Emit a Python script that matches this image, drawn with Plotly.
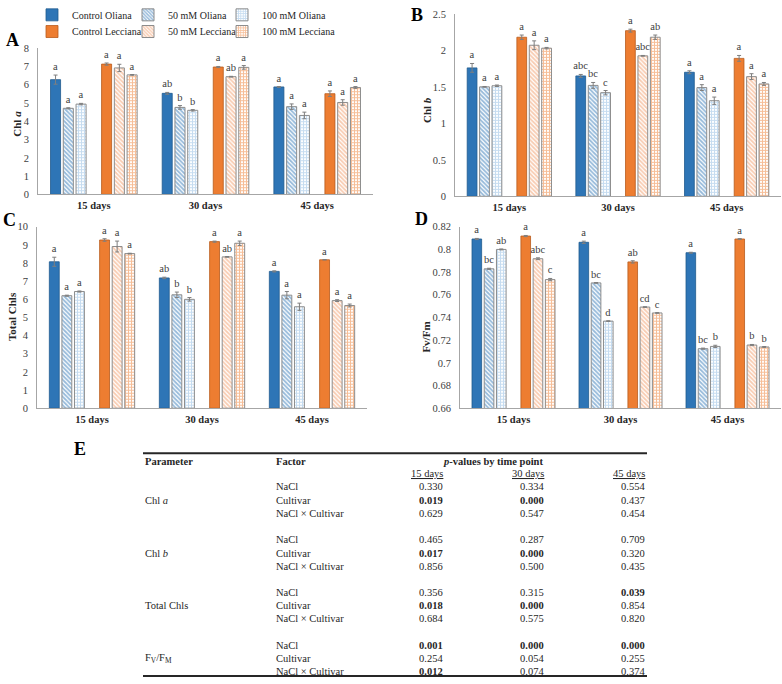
import plotly.graph_objects as go

W, H = 782, 684
FONT = "Liberation Serif, Times New Roman, serif"

# ---------------- data ----------------
days = ["15 days", "30 days", "45 days"]
series_names = ["Control Oliana", "50 mM Oliana", "100 mM Oliana",
                "Control Lecciana", "50 mM Lecciana", "100 mM Lecciana"]

chla_means = [[6.28, 5.53, 5.88], [4.71, 4.76, 4.80], [4.94, 4.60, 4.32],
              [7.13, 6.97, 5.51], [6.92, 6.44, 5.03], [6.54, 6.95, 5.85]]
chla_errs = [[0.25, 0.05, 0.02], [0.03, 0.10, 0.15], [0.04, 0.04, 0.18],
             [0.06, 0.03, 0.15], [0.20, 0.02, 0.15], [0.02, 0.10, 0.05]]
chla_letters = [["a", "ab", "a"], ["a", "b", "a"], ["a", "b", "a"],
                ["a", "a", "a"], ["a", "ab", "a"], ["a", "a", "a"]]

chlb_means = [[1.76, 1.65, 1.70], [1.50, 1.52, 1.49], [1.515, 1.42, 1.31],
              [2.18, 2.27, 1.89], [2.07, 1.925, 1.64], [2.03, 2.18, 1.54]]
chlb_errs = [[0.06, 0.02, 0.02], [0.005, 0.04, 0.04], [0.01, 0.03, 0.05],
             [0.03, 0.02, 0.04], [0.06, 0.005, 0.04], [0.01, 0.03, 0.02]]
chlb_letters = [["a", "abc", "a"], ["a", "bc", "a"], ["a", "c", "a"],
                ["a", "a", "a"], ["a", "abc", "a"], ["a", "ab", "a"]]

tot_means = [[8.07, 7.18, 7.54], [6.20, 6.25, 6.23], [6.43, 6.00, 5.59],
             [9.27, 9.18, 8.18], [8.91, 8.34, 5.93], [8.52, 9.09, 5.66]]
tot_errs = [[0.25, 0.04, 0.03], [0.03, 0.15, 0.20], [0.03, 0.10, 0.20],
            [0.07, 0.03, 0.01], [0.30, 0.02, 0.05], [0.02, 0.12, 0.08]]
tot_letters = [["a", "ab", "a"], ["a", "b", "a"], ["a", "b", "a"],
               ["a", "a", "a"], ["a", "ab", "a"], ["a", "a", "a"]]

fvfm_means = [[0.8092, 0.8063, 0.7971], [0.7829, 0.7705, 0.7125], [0.8000, 0.7368, 0.7145],
              [0.8118, 0.7890, 0.8092], [0.7918, 0.7492, 0.7157], [0.7734, 0.7440, 0.7140]]
fvfm_errs = [[0.0005, 0.001, 0.0004], [0.0005, 0.0003, 0.0005], [0.0004, 0.0003, 0.001],
             [0.0005, 0.001, 0.0003], [0.0008, 0.0003, 0.0005], [0.001, 0.0003, 0.0004]]
fvfm_letters = [["a", "a", "a"], ["bc", "bc", "bc"], ["ab", "d", "b"],
                ["a", "ab", "a"], ["abc", "cd", "b"], ["c", "c", "b"]]

table_params = ["Chl <i>a</i>", "Chl <i>b</i>", "Total Chls", "F<sub>V</sub>/F<sub>M</sub>"]
table_factors = ["NaCl", "Cultivar", "NaCl × Cultivar"]
pvals_15 = [0.330, 0.019, 0.629, 0.465, 0.017, 0.856, 0.356, 0.018, 0.684, 0.001, 0.254, 0.012]
pvals_30 = [0.334, 0.000, 0.547, 0.287, 0.000, 0.500, 0.315, 0.000, 0.575, 0.000, 0.054, 0.074]
pvals_45 = [0.554, 0.437, 0.454, 0.709, 0.320, 0.435, 0.039, 0.854, 0.820, 0.000, 0.255, 0.374]

# ---------------- styles ----------------
BLUE, LBLUE = "#2E75B6", "#8DB9E2"
ORANGE, LORANGE = "#ED7D31", "#F29A66"
styles = [
    dict(color=BLUE, line=dict(color="#1F5A8E", width=0.8)),
    dict(color="white", pattern=dict(shape="\\", fgcolor=BLUE, bgcolor="white", size=3, solidity=0.6),
         line=dict(color="#8C8C8C", width=1)),
    dict(color="white", pattern=dict(shape="+", fgcolor=LBLUE, bgcolor="white", size=3, solidity=0.6),
         line=dict(color="#8C8C8C", width=1)),
    dict(color=ORANGE, line=dict(color="#B85A1C", width=0.8)),
    dict(color="white", pattern=dict(shape="\\", fgcolor=LORANGE, bgcolor="white", size=3, solidity=0.6),
         line=dict(color="#8C8C8C", width=1)),
    dict(color="white", pattern=dict(shape="+", fgcolor=ORANGE, bgcolor="white", size=3, solidity=0.6),
         line=dict(color="#8C8C8C", width=1)),
]
slot = 0.8 / 7
bw = 0.09
slots = [0, 1, 2, 4, 5, 6]
offsets = [-0.4 + s * slot + (slot - bw) / 2 for s in slots]
legend_ids = ["legend", "legend2", "legend3", "legend4", "legend5", "legend6"]


def px(xp):
    return xp / W


def py(yp):
    return 1 - yp / H


panels = [
    dict(means=chla_means, errs=chla_errs, letters=chla_letters, ax="", rng=[0, 8], dt=1,
         xd=[38, 373], yd=[191, 42], legend=True),
    dict(means=chlb_means, errs=chlb_errs, letters=chlb_letters, ax="2", rng=[0, 2.5], dt=0.5,
         xd=[455, 781], yd=[193, 7], legend=False),
    dict(means=tot_means, errs=tot_errs, letters=tot_letters, ax="3", rng=[0, 10], dt=1,
         xd=[37, 367], yd=[409, 224], legend=False),
    dict(means=fvfm_means, errs=fvfm_errs, letters=fvfm_letters, ax="4", rng=[0.66, 0.82], dt=0.02,
         xd=[460, 781], yd=[409, 224], legend=False),
]

fig = go.Figure()
layout = {}
for p in panels:
    xa, ya = "x" + p["ax"], "y" + p["ax"]
    for i, name in enumerate(series_names):
        fig.add_trace(go.Bar(
            x=days, y=p["means"][i], name=name, xaxis=xa, yaxis=ya,
            offset=offsets[i], width=bw, marker=styles[i],
            error_y=dict(type="data", array=p["errs"][i], color="#7F7F7F", thickness=1, width=2),
            showlegend=p["legend"], legend=legend_ids[i],
        ))
        # invisible bar spanning the error bar, carrying the significance letters above it
        fig.add_trace(go.Bar(
            x=days, y=p["errs"][i], base=p["means"][i], xaxis=xa, yaxis=ya,
            offset=offsets[i], width=bw, marker=dict(color="rgba(0,0,0,0)", line=dict(width=0)),
            text=p["letters"][i], textposition="outside", textangle=0, constraintext="none",
            cliponaxis=False, textfont=dict(family=FONT, size=10.5, color="#404040"),
            showlegend=False, hoverinfo="skip",
        ))
    layout["xaxis" + p["ax"]] = dict(
        domain=[px(p["xd"][0]), px(p["xd"][1])], anchor=ya, type="category",
        categoryarray=days, range=[-0.5, 2.5], showline=True, linecolor="#A6A6A6",
        linewidth=1, ticks="", showgrid=False, zeroline=False,
        tickfont=dict(family=FONT, size=10.5, color="#262626", weight="bold"),
        ticklabelstandoff=1,
    )
    layout["yaxis" + p["ax"]] = dict(
        domain=[py(p["yd"][0]), py(p["yd"][1])], anchor=xa, range=p["rng"], dtick=p["dt"],
        tick0=p["rng"][0], showline=True, linecolor="#A6A6A6", linewidth=1, ticks="",
        showgrid=False, zeroline=False,
        tickfont=dict(family=FONT, size=10.5, color="#404040"), ticklabelstandoff=6,
    )

ann = []
# panel letters
for lab, x, y in [("A", 12, 34), ("B", 417, 8), ("C", 9, 217), ("D", 421, 216), ("E", 80, 451)]:
    ann.append(dict(text="<b>%s</b>" % lab, x=px(x), y=py(y), xref="paper", yref="paper",
                    showarrow=False, xanchor="center", yanchor="middle",
                    font=dict(family=FONT, size=18, color="black")))
# y titles
for lab, x, y in [("Chl <i>a</i>", 17, 119), ("Chl <i>b</i>", 427, 105),
                  ("Total Chls", 12, 316), ("Fv/Fm", 426, 337)]:
    ann.append(dict(text="<b>%s</b>" % lab, x=px(x), y=py(y), xref="paper", yref="paper",
                    showarrow=False, xanchor="center", yanchor="middle", textangle=-90,
                    font=dict(family=FONT, size=11, color="#262626")))

# table
tf = dict(family=FONT, size=10.5, color="#262626")


def tann(text, x, y, anchor="left"):
    ann.append(dict(text=text, x=px(x), y=py(y), xref="paper", yref="paper", showarrow=False,
                    xanchor=anchor, yanchor="middle", font=tf))


tann("<b>Parameter</b>", 143, 463)
tann("<b>Factor</b>", 274, 463)
tann("<b><i>p</i>-values by time point</b>", 441, 463)
col_x = [445, 546, 647]
for cx, d in zip(col_x, days):
    tann("<u>%s</u>" % d, cx, 476, "right")
row_y = [489, 503, 516, 543, 557, 570, 597, 610, 623, 651, 664, 677]
for k, yv in enumerate(row_y):
    tann(table_factors[k % 3], 274, yv)
    if k % 3 == 1:
        tann(table_params[k // 3], 143, yv)
    for cx, col in zip(col_x, [pvals_15, pvals_30, pvals_45]):
        v = "%.3f" % col[k]
        tann("<b>%s</b>" % v if col[k] < 0.05 else v, cx, yv, "right")

shapes = [
    dict(type="line", xref="paper", yref="paper", x0=px(143), x1=px(647), y0=py(455), y1=py(455),
         line=dict(color="#262626", width=2)),
    dict(type="line", xref="paper", yref="paper", x0=px(143), x1=px(647), y0=py(682), y1=py(682),
         line=dict(color="#262626", width=2)),
]

legfont = dict(family=FONT, size=10, color="#262626")
leg_x = [32, 128, 222, 32, 128, 222]
leg_y = [8, 8, 8, 25, 25, 25]
legends = {}
for lid, lx, ly in zip(legend_ids, leg_x, leg_y):
    legends[lid] = dict(orientation="h", x=px(lx), y=py(ly), xanchor="left", yanchor="middle",
                        font=legfont, itemwidth=30, bgcolor="rgba(0,0,0,0)")

fig.update_layout(
    width=W, height=H, margin=dict(l=0, r=0, t=0, b=0),
    paper_bgcolor="white", plot_bgcolor="white", barmode="overlay",
    font=dict(family=FONT),
    annotations=ann, shapes=shapes,
    **legends,
    **layout,
)
fig.write_html("out.html")
